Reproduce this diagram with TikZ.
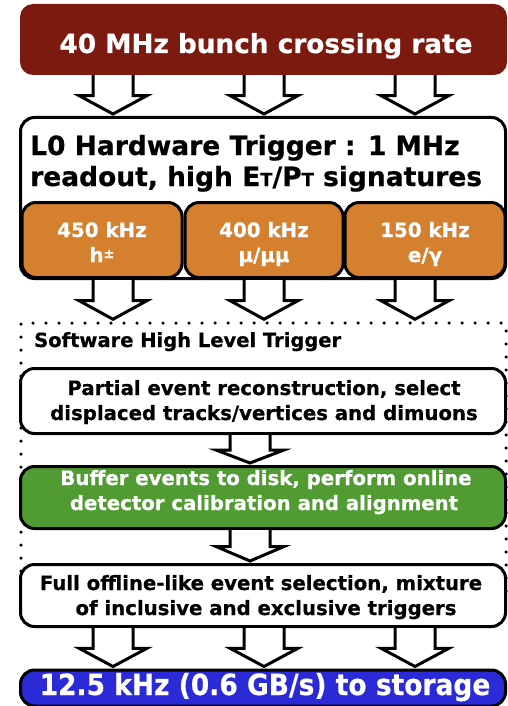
\documentclass[tikz,border=0pt]{standalone}
\usepackage{fontspec}
\setmainfont{DejaVu Sans}[BoldFeatures={FakeBold=0.6}]
\usetikzlibrary{calc}
\definecolor{rateRed}{RGB}{124,26,16}
\definecolor{lzOrange}{RGB}{213,128,46}
\definecolor{bufGreen}{RGB}{80,156,50}
\definecolor{storeBlue}{RGB}{42,42,214}
\newcommand\fsz[1]{\fontsize{#1}{#1}\selectfont\bfseries}
\newcommand\blockarrow[3]{%
  \draw[barrow] let \p1=(#2.south), \p2=(#3.north), \n1={(\y1+\y2)/2} in
    (#1pt-20pt,\y1) -- (#1pt-20pt,\n1) -- (#1pt-34pt,\n1) -- (#1pt,\y2+2pt)
    -- (#1pt+34pt,\n1) -- (#1pt+20pt,\n1) -- (#1pt+20pt,\y1);}
\begin{document}
\begin{tikzpicture}[x=1pt,y=-1pt,
  rbox/.style={rounded corners=13pt, fill=rateRed, minimum width=487pt, inner sep=0pt},
  wbox/.style={draw=black, line width=3pt, rounded corners=14pt, fill=white, minimum width=485pt, inner sep=0pt},
  obox/.style={wbox, fill=lzOrange, minimum height=75pt},
  dotbox/.style={draw=black, line width=3.5pt, line cap=round, dash pattern=on 0pt off 13pt, minimum width=485pt, inner sep=0pt},
  barrow/.style={draw=black, line width=3pt, fill=white, line join=miter},
  txt/.style={inner sep=0pt, anchor=base},
  wtxt/.style={txt, text=white},
  ltxt/.style={inner sep=0pt, anchor=base west}]
\useasboundingbox (0,0) rectangle (508,706);
% top
\node[rbox, minimum height=71pt] (rate) at (263.5,39.5) {};
\node[wtxt] (ratet) at (266,53) {\fsz{26.3}40 MHz bunch crossing rate};
% L0
\node[wbox, minimum height=161pt] (lzero) at (263,198) {};
\node[ltxt] (lzeroa) at (30,155) {\fsz{26.5}L0 Hardware Trigger : 1 MHz};
\node[ltxt] (lzerob) at (30,186) {\fsz{26.5}readout, high E{\fontsize{18}{18}\selectfont T}/P{\fontsize{18}{18}\selectfont T} signatures};
\node[obox, minimum width=160pt] (oa) at (102,240) {};
\node[obox, minimum width=158pt] (ob) at (264,240) {};
\node[obox, minimum width=160pt] (oc) at (425,240) {};
\node[wtxt] (oat) at (102,237) {\fsz{19.8}450 kHz};
\node[wtxt] (oab) at (102,262) {\fsz{19.8}h{\fontsize{13}{13}\selectfont\raisebox{4pt}{±}}};
\node[wtxt] (obt) at (264,237) {\fsz{19.8}400 kHz};
\node[wtxt] (obb) at (264,262) {\fsz{19.8}μ/μμ};
\node[wtxt] (oct) at (425,237) {\fsz{19.8}150 kHz};
\node[wtxt] (ocb) at (425,262) {\fsz{19.8}e/γ};
% HLT
\node[dotbox, minimum height=277pt] (hlt) at (263.5,461.5) {};
\node[ltxt] (hltt) at (34,347) {\fsz{19.5}Software High Level Trigger};
\node[wbox, minimum height=65pt] (part) at (263,401) {};
\node[txt] (parta) at (264,395) {\fsz{19.7}Partial event reconstruction, select};
\node[txt] (partb) at (264,420) {\fsz{19.7}displaced tracks/vertices and dimuons};
\node[wbox, fill=bufGreen, minimum height=62pt] (buf) at (263,497.5) {};
\node[wtxt] (bufa) at (266,485) {\fsz{19.7}Buffer events to disk, perform online};
\node[wtxt] (bufb) at (264,510) {\fsz{19.7}detector calibration and alignment};
\node[wbox, minimum height=62pt] (full) at (263,595.5) {};
\node[txt] (fulla) at (261,590) {\fsz{19.7}Full offline-like event selection, mixture};
\node[txt] (fullb) at (266,615) {\fsz{19.7}of inclusive and exclusive triggers};
% storage
\node[wbox, fill=storeBlue, minimum height=36pt] (store) at (263,688) {};
\node[wtxt] (storet) at (265,695) {\fsz{26.5}\scalebox{1}[1.1]{12.5 kHz (0.6 GB/s) to storage}};
% arrows
\blockarrow{113}{rate}{lzero}
\blockarrow{264}{rate}{lzero}
\blockarrow{415}{rate}{lzero}
\blockarrow{113}{lzero}{hlt}
\blockarrow{264}{lzero}{hlt}
\blockarrow{415}{lzero}{hlt}
\blockarrow{250}{part}{buf}
\blockarrow{250}{buf}{full}
\blockarrow{113}{full}{store}
\blockarrow{264}{full}{store}
\blockarrow{415}{full}{store}
\end{tikzpicture}
\end{document}
